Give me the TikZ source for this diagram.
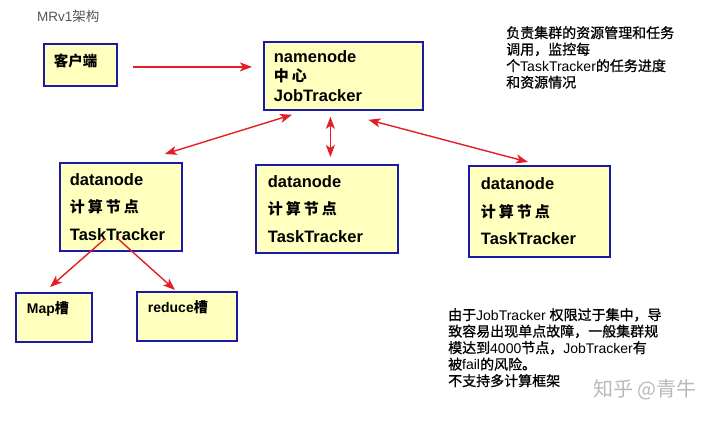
\documentclass[tikz,border=0pt]{standalone}
\usepackage{fontspec}
\setmainfont{Liberation Sans}
\newfontfamily\cjk{Noto Sans CJK SC}
\newfontfamily\cjkm[FakeBold=0.9]{Noto Sans CJK SC}
\newfontfamily\lat{Liberation Sans}
\usetikzlibrary{arrows.meta}
\newcommand{\zh}[1]{{\cjk #1}}
\newcommand{\en}[1]{{\lat #1}}
\definecolor{boxfill}{RGB}{255,255,190}
\definecolor{boxline}{RGB}{26,26,168}
\definecolor{arrred}{RGB}{228,30,38}
\definecolor{titlegray}{RGB}{85,85,85}
\definecolor{wmgray}{RGB}{185,185,185}
\begin{document}
\begin{tikzpicture}[x=1pt,y=-1pt,
  box/.style={draw=boxline, line width=1.8pt, fill=boxfill, inner xsep=11pt, inner ysep=0pt,
    align=left, anchor=north west, font=\bfseries\fontsize{16.5}{27.5}\selectfont},
  small/.style={box, align=left, font=\bfseries\fontsize{14}{16}\selectfont, text height=12pt, text depth=20.4pt},
  tip/.tip={Stealth[length=12pt,width=9pt,inset=3pt]},
  arr/.style={draw=arrred, line width=1.4pt, -tip},
  darr/.style={draw=arrred, line width=1.4pt, tip-tip},
  note/.style={anchor=north west, inner sep=0pt, align=left, font=\cjkm\fontsize{14}{16.5}\selectfont}
]
\fill[white] (0,0) rectangle (720,421);
\useasboundingbox (0,0) rectangle (720,421);

\node[anchor=west, inner sep=0pt, font=\fontsize{13.5}{13.5}\selectfont, text=titlegray] (title) at (37,16) {MRv1\zh{架构}};

\node[box, text width=53pt, minimum height=42pt, inner xsep=10pt, font=\cjk\bfseries\fontsize{14.5}{16}\selectfont, text height=12pt, text depth=9pt] (cl) at (43,43) {客户端};

\node[box, text width=139pt, minimum height=68pt, inner xsep=10pt, font=\bfseries\fontsize{16.5}{19.5}\selectfont] (nn) at (263,41)
  {namenode\\\zh{\fontsize{15}{19.5}\selectfont 中\hspace{3pt}心}\\JobTracker};

\node[box, text width=102pt, minimum height=88pt, inner xsep=10pt] (dn1) at (59,162)
  {datanode\\\zh{\fontsize{15}{27.5}\selectfont 计\hspace{3pt}算\hspace{3pt}节\hspace{3pt}点}\\TaskTracker};
\node[box, text width=118pt, minimum height=88pt, inner xsep=12pt] (dn2) at (255,164)
  {datanode\\\zh{\fontsize{15}{27.5}\selectfont 计\hspace{3pt}算\hspace{3pt}节\hspace{3pt}点}\\TaskTracker};
\node[box, text width=117pt, minimum height=91pt, inner xsep=12pt] (dn3) at (468,165)
  {datanode\\\zh{\fontsize{15}{27.5}\selectfont 计\hspace{3pt}算\hspace{3pt}节\hspace{3pt}点}\\TaskTracker};

\node[small, text width=54pt, minimum height=49pt] (map) at (15,292) {Map\zh{槽}};
\node[small, text width=78pt, minimum height=49pt] (red) at (136,291) {reduce\zh{槽}};

\node[note] (n1) at (506,26) {负责集群的资源管理和任务\\调用，监控每\\个\en{TaskTracker}的任务进度\\和资源情况};
\node[note] (n2) at (448,308) {由于\en{JobTracker }权限过于集中，导\\致容易出现单点故障，一般集群规\\模达到\en{4000}节点，\en{JobTracker}有\\被\en{fail}的风险。\\不支持多计算框架};

\node[inner sep=0pt, font=\cjk\fontsize{20}{20}\selectfont, text=wmgray] (wm) at (645,390) {知乎 @青牛};

\draw[arr] ([xshift=15pt,yshift=-2pt]cl.east) -- ([xshift=-11pt,yshift=-2pt]nn.west |- cl.east);
\draw[darr] ([xshift=29pt,yshift=-4pt]nn.south west) -- ([xshift=-18pt,yshift=8pt]dn1.north east);
\draw[darr] ([xshift=-13pt,yshift=-6pt]nn.south) -- ([xshift=-13pt,yshift=7pt]nn.south |- dn2.north);
\draw[darr] ([xshift=25pt,yshift=-9pt]nn.south) -- ([xshift=60pt,yshift=3pt]dn3.north west);
\draw[arr] ([xshift=46pt,yshift=13pt]dn1.south west) -- ([xshift=35pt,yshift=5pt]map.north west);
\draw[arr] ([xshift=59pt,yshift=13pt]dn1.south west) -- ([xshift=39pt,yshift=1pt]red.north west);
\end{tikzpicture}
\end{document}
